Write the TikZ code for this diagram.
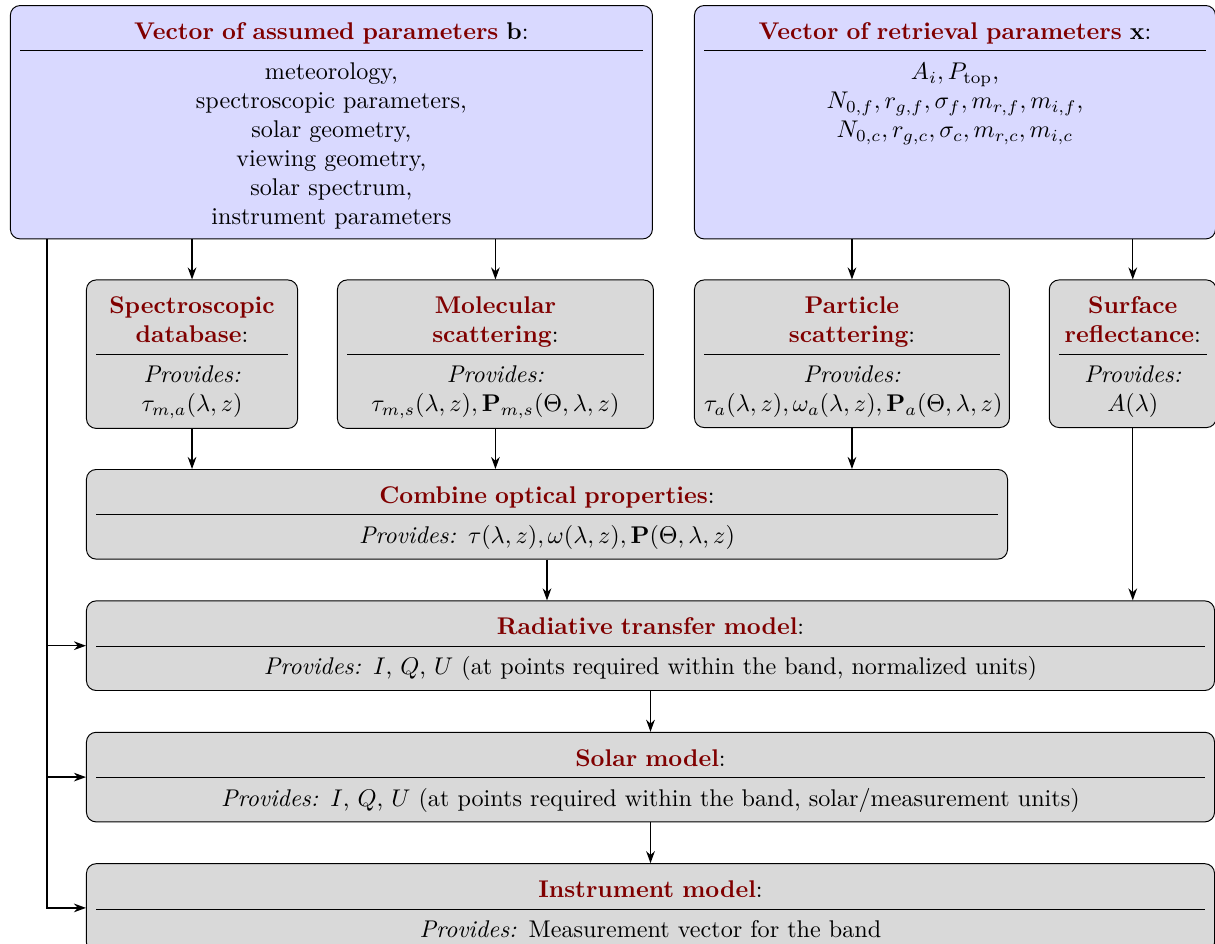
\documentclass[tikz,border=0pt]{standalone}
\usepackage{xcolor}
\usepackage{tikz}
\usetikzlibrary{arrows.meta, positioning}
\definecolor{titleRed}{RGB}{128,0,0}
\definecolor{inputBlue}{RGB}{217,217,255}
\definecolor{stageGray}{RGB}{217,217,217}
\newcommand{\hdr}[1]{\textcolor{titleRed}{\textbf{#1}}}
\newcommand{\blocktext}[2]{\rule{0pt}{10pt}#1\strut\par\vspace{1pt}\hrule\vspace{3.2pt}\rule{0pt}{8.4pt}#2\rule[-2pt]{0pt}{2pt}}

\begin{document}
\begin{tikzpicture}[
    node distance=16.6pt,
    box/.style={rounded corners, draw=black, thin, inner sep=4pt, align=center},
    inbox/.style={box, fill=inputBlue},
    stagebox/.style={box, fill=stageGray},
    arrow/.style={-{Stealth[length=5pt, width=3.6pt]}, semithick}
  ]
    \useasboundingbox (0,0) rectangle (503pt,-390.4pt);

    \node[inbox, text width=257.8pt, anchor=north west] (bvec) at (4.1pt,-2.1pt)
      {\blocktext{\hdr{Vector of assumed parameters} $\mathbf{b}$:}{meteorology,\\spectroscopic parameters,\\solar geometry,\\viewing geometry,\\solar spectrum,\\instrument parameters}};
    \node[inbox, text width=207.7pt, right=17pt of bvec] (xvec)
      {\blocktext{\hdr{Vector of retrieval parameters} $\mathbf{x}$:}{$A_i, P_{\mathrm{top}}$,\\$N_{0,f}, r_{g,f}, \sigma_f, m_{r,f}, m_{i,f}$,\\$N_{0,c}, r_{g,c}, \sigma_c, m_{r,c}, m_{i,c}$\\[24pt]}};

    \node[stagebox, text width=79.4pt, below=16.6pt of bvec.south west, anchor=north west, xshift=31.5pt] (spec)
      {\blocktext{\hdr{Spectroscopic\\database}:}{\textit{Provides:}\\$\tau_{m,a}(\lambda,z)$}};
    \node[stagebox, text width=122.8pt, right=16.1pt of spec] (mol)
      {\blocktext{\hdr{Molecular\\scattering}:}{\textit{Provides:}\\$\tau_{m,s}(\lambda,z),\mathbf{P}_{m,s}(\Theta,\lambda,z)$}};
    \node[stagebox, text width=122.4pt, below=16.6pt of xvec.south west, anchor=north west] (part)
      {\blocktext{\hdr{Particle\\scattering}:}{\textit{Provides:}\\$\tau_a(\lambda,z),\omega_a(\lambda,z),\mathbf{P}_a(\Theta,\lambda,z)$}};
    \node[stagebox, text width=61.1pt, right=16.1pt of part] (surf)
      {\blocktext{\hdr{Surface\\reflectance}:}{\textit{Provides:}\\$A(\lambda)$}};

    \node[stagebox, text width=373.3pt, below=16.6pt of spec.south west, anchor=north west] (comb)
      {\blocktext{\hdr{Combine optical properties}:}{\textit{Provides:} $\tau(\lambda,z),\omega(\lambda,z),\mathbf{P}(\Theta,\lambda,z)$}};
    \node[stagebox, text width=459pt, below=16.9pt of comb.south west, anchor=north west] (rtm)
      {\blocktext{\hdr{Radiative transfer model}:}{\textit{Provides:} $I$, $Q$, $U$ (at points required within the band, normalized units)}};
    \node[stagebox, text width=459pt, below=16.9pt of rtm] (solar)
      {\blocktext{\hdr{Solar model}:}{\textit{Provides:} $I$, $Q$, $U$ (at points required within the band, solar/measurement units)}};
    \node[stagebox, text width=459pt, below=16.9pt of solar] (instr)
      {\blocktext{\hdr{Instrument model}:}{\textit{Provides:} Measurement vector for the band}};

    \draw[arrow] (bvec.south -| spec.north) -- (spec);
    \draw[arrow] (bvec.south -| mol.north) -- (mol);
    \draw[arrow] (xvec.south -| part.north) -- (part);
    \draw[arrow] (xvec.south -| surf.north) -- (surf);

    \draw[arrow] (spec) -- (spec.south |- comb.north);
    \draw[arrow] (mol) -- (mol.south |- comb.north);
    \draw[arrow] (part) -- (part.south |- comb.north);
    \draw[arrow] (comb) -- (comb.south |- rtm.north);
    \draw[arrow] (surf) -- (surf.south |- rtm.north);
    \draw[arrow] (rtm) -- (solar);
    \draw[arrow] (solar) -- (instr);

    \coordinate (trunk) at ([xshift=15.4pt]bvec.south west);
    \draw[arrow] (trunk) |- (rtm.west);
    \draw[arrow] (trunk) |- (solar.west);
    \draw[arrow] (trunk) |- (instr.west);
  \end{tikzpicture}
\end{document}
